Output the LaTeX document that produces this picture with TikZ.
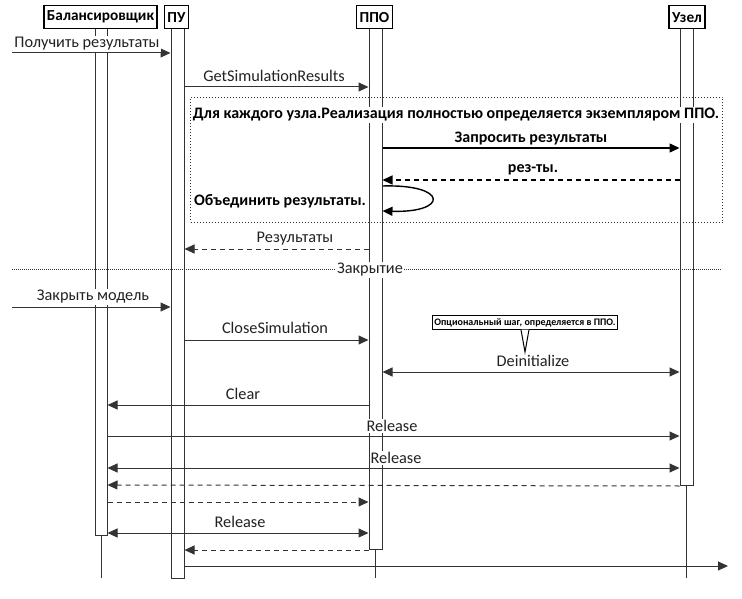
\documentclass[tikz,border=0pt]{standalone}
\usepackage{fontspec}
\setmainfont{Carlito}
\usetikzlibrary{arrows.meta}
\definecolor{ln}{HTML}{333333}
\definecolor{tx}{HTML}{222222}
\begin{document}
\begin{tikzpicture}[x=1pt,y=-1pt,
  head/.style={draw=black, line width=1.2pt, fill=white, inner xsep=3pt, minimum height=23pt, anchor=north, font=\bfseries\fontsize{15.3}{17}\selectfont},
  bar/.style={draw=ln, fill=white, line width=1pt, inner sep=0pt, minimum width=13pt, anchor=north},
  life/.style={draw=ln, line width=1pt},
  tip/.tip={Triangle[length=10pt,width=9pt]},
  msg/.style={draw=ln, line width=1pt, -tip},
  bmsg/.style={draw=black, line width=1.4pt, -tip},
  ret/.style={msg, dash pattern=on 5pt off 4pt},
  both/.style={draw=ln, line width=1pt, tip-tip},
  lbl/.style={fill=white, inner sep=1pt, text=tx, font=\fontsize{16.3}{18}\selectfont},
  blbl/.style={fill=white, inner sep=1pt, text=black, font=\bfseries\fontsize{16}{18}\selectfont},
  note/.style={draw=black, line width=1pt, fill=white, inner xsep=2pt, inner ysep=2.5pt, font=\bfseries\fontsize{10}{11}\selectfont}
]
\useasboundingbox (0,0) rectangle (742,599);

% bars and lifelines
\node[bar, minimum width=12pt, minimum height=507pt] (bbar) at (101,28) {};
\node[bar, minimum height=550pt] (pubar) at (177.5,28) {};
\node[bar, minimum height=521pt] (ppobar) at (375.5,28) {};
\node[bar, minimum height=457pt] (ubar) at (686.5,28) {};
\coordinate (bot) at (0,578);
\draw[life] (bbar.south) -- (bbar.south |- bot);
\draw[life] (ppobar.south) -- (ppobar.south |- bot);
\draw[life] (ubar.south) -- (ubar.south |- bot);

% headers
\node[head] (hb) at (100.5,5) {Балансировщик};
\node[head] (hpu) at (176.5,5) {ПУ};
\node[head] (hppo) at (374.5,5) {ППО};
\node[head] (hu) at (687,5) {Узел};

% row coordinates
\coordinate (left) at (12,0);
\coordinate (r1) at (0,53);
\coordinate (r2) at (0,87);
\coordinate (r4) at (0,148);
\coordinate (r5) at (0,180);
\coordinate (r6a) at (0,186);
\coordinate (r6b) at (0,211);
\coordinate (r7) at (0,249);
\coordinate (r9) at (0,307);
\coordinate (r10) at (0,340);
\coordinate (r12) at (0,372);
\coordinate (r13) at (0,405);
\coordinate (r14) at (0,436);
\coordinate (r15) at (0,468);
\coordinate (r16) at (0,485);
\coordinate (r17) at (0,502);
\coordinate (r18) at (0,533);
\coordinate (r19) at (0,550);
\coordinate (r20) at (0,566);
\coordinate (fin) at (728,566);

% loop frame
\node[draw=ln, dotted, line width=1pt, minimum width=532pt, minimum height=125pt, inner sep=0pt, anchor=north west] (frame) at (190,97) {};

% messages
\draw[msg] (left |- r1) -- (pubar.west |- r1);
\draw[msg] (pubar.east |- r2) -- (ppobar.west |- r2);
\draw[bmsg] (ppobar.east |- r4) -- (ubar.west |- r4);
\draw[ret, draw=black, line width=1.3pt] (ubar.west |- r5) -- (ppobar.east |- r5);
\draw[bmsg] (ppobar.east |- r6a) .. controls +(66,-2) and +(66,2) .. (ppobar.east |- r6b);
\draw[ret] (ppobar.west |- r7) -- (pubar.east |- r7);

% separator
\coordinate (sepL) at (12,269);
\coordinate (sepR) at (722,269);
\draw[ln, densely dotted, line width=1pt] (sepL) -- (sepR);

\draw[msg] (left |- r9) -- (pubar.west |- r9);
\draw[msg] (pubar.east |- r10) -- (ppobar.west |- r10);
\draw[both] (ppobar.east |- r12) -- (ubar.west |- r12);
\draw[msg] (ppobar.west |- r13) -- (bbar.east |- r13);
\draw[msg] (bbar.east |- r14) -- (ubar.west |- r14);
\draw[both] (bbar.east |- r15) -- (ubar.west |- r15);
\draw[ret] (ubar.south west) -- (bbar.east |- r16);
\draw[ret] (bbar.east |- r17) -- (ppobar.west |- r17);
\draw[both] (bbar.east |- r18) -- (ppobar.west |- r18);
\draw[ret] (ppobar.west |- r19) -- (pubar.east |- r19);
\draw[msg] (pubar.east |- r20) -- (fin);

% labels
\node[lbl] (l1) at (87,44) {Получить результаты};
\node[lbl] (l2) at (274,76) {GetSimulationResults};
\node[blbl] (l3) at (456,115) {Для каждого узла.Реализация полностью определяется экземпляром ППО.};
\node[blbl] (l4) at (531,139) {Запросить результаты};
\node[blbl] (l5) at (533,170) {рез-ты.};
\node[blbl] (l6) at (280,201) {Объединить результаты.};
\node[lbl] (l7) at (295,239) {Результаты};
\node[lbl] (l8) at (370,270) {Закрытие};
\node[lbl] (l9) at (93,297) {Закрыть модель};
\node[lbl] (l10) at (275,328) {CloseSimulation};
\node[lbl] (l12) at (533,361) {Deinitialize};
\node[lbl] (l13) at (243,394) {Clear};
\node[lbl] (l14) at (392,426) {Release};
\node[lbl] (l15) at (396,458) {Release};
\node[lbl] (l18) at (240,522) {Release};

% note
\node[note] (nt) at (525,322.5) {Опциональный шаг, определяется в ППО.};
\coordinate (ntip) at (525,352);
\draw[black, line width=1pt, fill=white] ([xshift=-4pt]nt.south) -- (ntip) -- ([xshift=4pt]nt.south);
\end{tikzpicture}
\end{document}
